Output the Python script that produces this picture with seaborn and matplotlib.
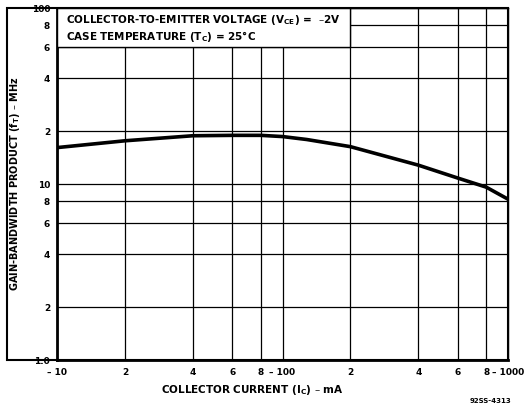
import matplotlib
matplotlib.use("Agg")
import matplotlib.pyplot as plt
import matplotlib.ticker as mticker
from matplotlib.patches import Rectangle
import seaborn as sns
import pandas as pd

# curve (collector current in mA, fT in MHz)
current_ma = [10, 20, 40, 60, 80, 100, 128, 200, 400, 600, 800, 1000]
gain_bw_mhz = [16.1, 17.6, 18.8, 18.9, 18.9, 18.6, 17.9, 16.3, 12.8, 10.8, 9.6, 8.2]

x_ticks = [10, 20, 40, 60, 80, 100, 200, 400, 600, 800, 1000]
x_labels = ["\u2013 10", "2", "4", "6", "8", "\u2013 100", "2", "4", "6", "8", "\u2013 1000"]
y_ticks = [1, 2, 4, 6, 8, 10, 20, 40, 60, 80, 100]
y_labels = ["1.0", "2", "4", "6", "8", "10", "2", "4", "6", "8", "100"]

sns.set_style("white")
plt.rcParams["font.family"] = ["DejaVu Sans"]
plt.rcParams["font.weight"] = "bold"
plt.rcParams["text.color"] = "black"
plt.rcParams["axes.labelcolor"] = "black"
plt.rcParams["xtick.color"] = "black"
plt.rcParams["ytick.color"] = "black"

df = pd.DataFrame({"ic": current_ma, "ft": gain_bw_mhz})

fig = plt.figure(figsize=(5.24, 4.08), dpi=100)
ax = fig.add_axes([57 / 524, 48 / 408, 451 / 524, 352 / 408])

sns.lineplot(data=df, x="ic", y="ft", ax=ax, color="black", linewidth=2.6, zorder=5)

ax.set_xscale("log")
ax.set_yscale("log")
ax.set_xlim(10, 1000)
ax.set_ylim(1, 100)

ax.xaxis.set_major_locator(mticker.FixedLocator(x_ticks))
ax.xaxis.set_major_formatter(mticker.FixedFormatter(x_labels))
ax.xaxis.set_minor_locator(mticker.NullLocator())
ax.yaxis.set_major_locator(mticker.FixedLocator(y_ticks))
ax.yaxis.set_major_formatter(mticker.FixedFormatter(y_labels))
ax.yaxis.set_minor_locator(mticker.NullLocator())
ax.tick_params(axis="both", length=0, labelsize=6.5, labelcolor="black")
ax.tick_params(axis="x", pad=6)
ax.tick_params(axis="y", pad=5)

ax.grid(True, which="major", color="black", linewidth=0.9)
ax.set_axisbelow(True)
for side, sp in ax.spines.items():
    sp.set_color("black")
    sp.set_linewidth(1.0)
ax.spines["left"].set_linewidth(2.0)
ax.spines["bottom"].set_linewidth(2.0)

# condition box in the upper left, hides the grid behind it
ax.add_patch(Rectangle((10, 60), 190, 40, facecolor="white", edgecolor="black",
                       linewidth=1.0, zorder=3))
ax.text(0.02, 0.966, "COLLECTOR-TO-EMITTER VOLTAGE (V$_{\\mathbf{CE}}$) =  \u20132V",
        transform=ax.transAxes, fontsize=7.5, fontweight="bold", va="center", zorder=6)
ax.text(0.02, 0.918, "CASE TEMPERATURE (T$_{\\mathbf{C}}$) = 25\u00b0C",
        transform=ax.transAxes, fontsize=7.5, fontweight="bold", va="center", zorder=6)

ax.set_xlabel("COLLECTOR CURRENT (I$_{\\mathbf{C}}$) \u2013 mA", fontsize=7.5,
              fontweight="bold")
ax.xaxis.set_label_coords((252 - 57) / 451, -0.065)
ax.set_ylabel("GAIN-BANDWIDTH PRODUCT (f$_{\\mathbf{T}}$) \u2013 MHz", fontsize=7,
              fontweight="bold")
ax.yaxis.set_label_coords(-0.078, 0.5)

# outer frame around the label column
fig.add_artist(Rectangle((7 / 524, 48 / 408), 501 / 524, 352 / 408, fill=False,
                         edgecolor="black", linewidth=1.5, transform=fig.transFigure))
fig.text(490 / 524, 4 / 408, "92SS-4313", fontsize=5, ha="center", va="bottom")

fig.savefig("out.png", dpi=100)
